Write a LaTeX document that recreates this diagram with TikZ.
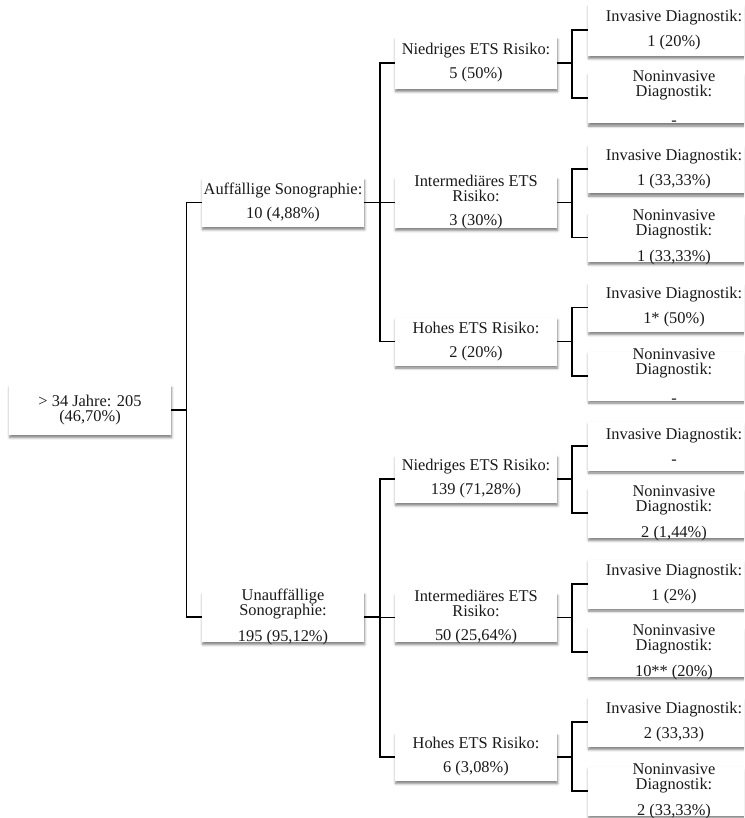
\documentclass[tikz,border=0pt]{standalone}
\usepackage{fontspec}
\setmainfont{Liberation Serif}
\usetikzlibrary{shadows.blur}
\pgfdeclarelayer{background}
\pgfsetlayers{background,main}

\tikzset{
  box/.style={rectangle, fill=white, inner sep=0pt, minimum width=162pt, minimum height=49pt,
    blur shadow={shadow xshift=0.6pt, shadow yshift=-2.6pt, shadow blur radius=2.4pt, shadow opacity=50}},
  leafbox/.style={box, minimum width=172pt},
  txt/.style={align=center, inner sep=0pt, font=\fontsize{16.4}{15}\selectfont, text=black!90},
  link/.style={draw=black, line width=1.3pt},
}

\begin{document}
\begin{tikzpicture}[x=1pt,y=-1pt]
\useasboundingbox (0,0) rectangle (744,818);
\clip (0,0) rectangle (744,818);

% bus lines of the tree
\coordinate (b0) at (186.5,0);
\coordinate (b1) at (380,0);
\coordinate (b2) at (572,0);

% root
\node[box, minimum height=50pt] (root) at (90,410) {};
\node[txt] (root-t) at (root) {> 34 Jahre: 205\\(46,70\%)};

% sonography
\node[box] (s1) at (283,202.5) {};
\node[txt] (s1-t) at (s1) {Auffällige Sonographie:\\[9pt]10 (4,88\%)};
\node[box, minimum height=50pt] (s2) at (283,617) {};
\node[txt] (s2-t) at (s2) {Unauffällige\\Sonographie:\\[11pt]195 (95,12\%)};

% ETS risk
\node[box, minimum height=52pt] (r1) at (476,63) {};
\node[txt] (r1-t) at (r1) {Niedriges ETS Risiko:\\[9pt]5 (50\%)};
\node[box, minimum height=51pt] (r2) at (476,202.5) {};
\node[txt] (r2-t) at (r2) {Intermediäres ETS\\Risiko:\\[9pt]3 (30\%)};
\node[box, minimum height=48pt] (r3) at (476,341.5) {};
\node[txt] (r3-t) at (r3) {Hohes ETS Risiko:\\[9pt]2 (20\%)};
\node[box, minimum height=48pt] (r4) at (476,479) {};
\node[txt] (r4-t) at (r4) {Niedriges ETS Risiko:\\[9pt]139 (71,28\%)};
\node[box, minimum height=49pt] (r5) at (476,617.5) {};
\node[txt] (r5-t) at (r5) {Intermediäres ETS\\Risiko:\\[9pt]50 (25,64\%)};
\node[box, minimum height=48pt] (r6) at (476,757) {};
\node[txt] (r6-t) at (r6) {Hohes ETS Risiko:\\[9pt]6 (3,08\%)};

% diagnostics
\node[leafbox, minimum height=52pt] (d1) at (674,30) {};
\node[txt] (d1-t) at (d1) {Invasive Diagnostik:\\[10pt]1 (20\%)};
\node[leafbox, minimum height=51pt] (d2) at (674,98) {};
\node[txt] (d2-t) at (d2) {Noninvasive\\Diagnostik:\\[14pt]-};
\node[leafbox] (d3) at (674,169) {};
\node[txt] (d3-t) at (d3) {Invasive Diagnostik:\\[10pt]1 (33,33\%)};
\node[leafbox] (d4) at (674,237.5) {};
\node[txt] (d4-t) at (d4) {Noninvasive\\Diagnostik:\\[11pt]1 (33,33\%)};
\node[leafbox] (d5) at (674,307.5) {};
\node[txt] (d5-t) at (d5) {Invasive Diagnostik:\\[10pt]1* (50\%)};
\node[leafbox] (d6) at (674,376) {};
\node[txt] (d6-t) at (d6) {Noninvasive\\Diagnostik:\\[14pt]-};
\node[leafbox] (d7) at (674,446) {};
\node[txt] (d7-t) at (d7) {Invasive Diagnostik:\\[10pt]-};
\node[leafbox, minimum height=50pt] (d8) at (674,513) {};
\node[txt] (d8-t) at (d8) {Noninvasive\\Diagnostik:\\[11pt]2 (1,44\%)};
\node[leafbox] (d9) at (674,584) {};
\node[txt] (d9-t) at (d9) {Invasive Diagnostik:\\[10pt]1 (2\%)};
\node[leafbox, minimum height=50pt] (d10) at (674,652) {};
\node[txt] (d10-t) at (d10) {Noninvasive\\Diagnostik:\\[11pt]10** (20\%)};
\node[leafbox, minimum height=50pt] (d11) at (674,722) {};
\node[txt] (d11-t) at (d11) {Invasive Diagnostik:\\[10pt]2 (33,33)};
\node[leafbox] (d12) at (674,791) {};
\node[txt] (d12-t) at (d12) {Noninvasive\\Diagnostik:\\[11pt]2 (33,33\%)};

% elbow connectors behind the boxes
\begin{pgfonlayer}{background}
\foreach \p/\c/\bus in {root/s1/b0, root/s2/b0,
    s1/r1/b1, s1/r2/b1, s1/r3/b1, s2/r4/b1, s2/r5/b1, s2/r6/b1,
    r1/d1/b2, r1/d2/b2, r2/d3/b2, r2/d4/b2, r3/d5/b2, r3/d6/b2,
    r4/d7/b2, r4/d8/b2, r5/d9/b2, r5/d10/b2, r6/d11/b2, r6/d12/b2}
  \draw[link] (\p.east) -- (\p.east -| \bus) |- (\c.west);
\end{pgfonlayer}
\end{tikzpicture}
\end{document}
